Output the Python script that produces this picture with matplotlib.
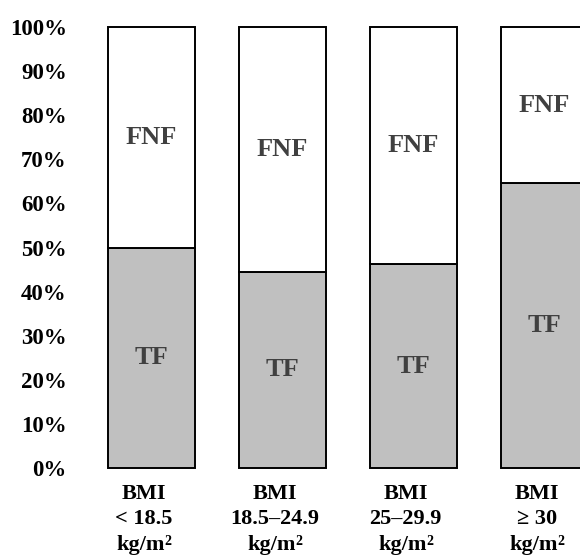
import matplotlib
matplotlib.use("Agg")
import matplotlib.pyplot as plt

plt.rcParams['font.family'] = ['Liberation Serif', 'DejaVu Serif']
plt.rcParams['font.weight'] = 'bold'

ranges = ["< 18.5", "18.5–24.9", "25–29.9", "≥ 30"]
tf = [50.0, 44.5, 46.2, 64.6]
fnf = [100 - v for v in tf]
yticks = list(range(0, 101, 10))

fig = plt.figure(figsize=(5.8, 5.56), dpi=100)
ax = fig.add_axes([0.1293, 0.1583, 0.8707, 0.7931])

x = list(range(len(ranges)))
w = 0.664
ax.bar(x, tf, width=w, color="#c0c0c0", edgecolor="black", linewidth=1.4, clip_on=False)
ax.bar(x, fnf, bottom=tf, width=w, color="white", edgecolor="black", linewidth=1.4, clip_on=False)

for i in x:
    ax.text(i, tf[i] / 2, "TF", ha="center", va="center", fontsize=19, color="#404040", fontweight="bold")
    ax.text(i, tf[i] + fnf[i] / 2, "FNF", ha="center", va="center", fontsize=19, color="#404040", fontweight="bold")

# category labels, three lines under each bar (a bit left of centre, as in the original)
fs = 16
def lab(i, txt, dx, dy, size=fs, ha="center"):
    ax.annotate(txt, xy=(i - 0.06, 0), xycoords=("data", "axes fraction"),
                xytext=(dx, dy), textcoords="offset points",
                ha=ha, va="baseline", fontsize=size, fontweight="bold",
                annotation_clip=False)

for i, r in enumerate(ranges):
    lab(i, "BMI", 0, -22.3)
    lab(i, r, 0, -40.3)
    # "kg/m" plus a raised "2" (Times metrics: kg/m = 2.167 em)
    lab(i, "kg/m", -19.8, -58.8, ha="left")
    lab(i, "2", -19.8 + 2.167 * fs + 0.3, -55.8, size=10, ha="left")

ax.set_xlim(-0.584, 3.271)
ax.set_ylim(0, 100)
ax.set_yticks(yticks)
ax.set_yticklabels([f"{t}%" for t in yticks], fontsize=16.5, fontweight="bold")
ax.set_xticks([])
ax.tick_params(length=0)
ax.tick_params(axis="y", pad=6)
for s in ax.spines.values():
    s.set_visible(False)

fig.savefig("out.png", dpi=100)
